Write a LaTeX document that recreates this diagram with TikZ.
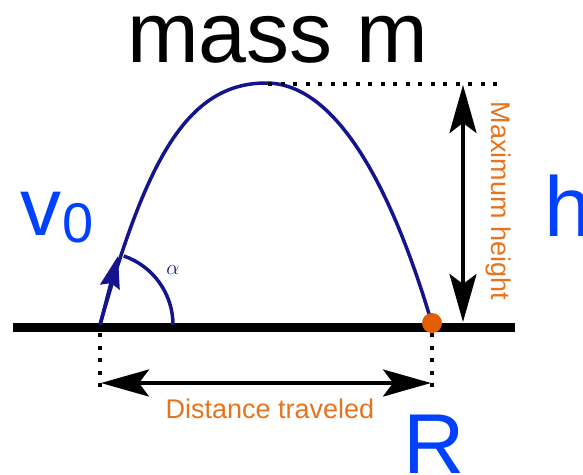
\documentclass[tikz,border=0pt]{standalone}
\usepackage{fontspec}
\setmainfont{Liberation Sans}
\usetikzlibrary{arrows.meta}
\definecolor{trajc}{RGB}{20,20,140}
\definecolor{lblue}{RGB}{0,64,255}
\definecolor{lorange}{RGB}{230,115,30}
\definecolor{dotorange}{RGB}{225,95,0}
\begin{document}
\begin{tikzpicture}[x=1pt,y=-1pt,
  traj/.style={draw=trajc, line width=3.5pt},
  dotline/.style={line width=4pt, dash pattern=on 4pt off 8.5pt},
  dimarrow/.style={line width=4pt, {Stealth[length=48pt,width=27pt,inset=10pt]}-{Stealth[length=48pt,width=27pt,inset=10pt]}},
  bigtext/.style={text=lblue, font=\fontsize{85}{85}\selectfont, inner sep=0pt, anchor=base west},
  smalltext/.style={text=lorange, font=\fontsize{27}{27}\selectfont, inner sep=0pt}]
\useasboundingbox (0,0) rectangle (583,474);
% coordinates
\coordinate (launch) at (100,325);
\coordinate (apex) at (266,83);
\coordinate (land) at (432,324);
\coordinate (tipv) at (118,256);
\coordinate (arcstart) at (173,325);
\coordinate (gl) at (13,327.5);
\coordinate (gr) at (515,327.5);
\coordinate (dtl) at (268,84);
\coordinate (dtr) at (500,84);
\coordinate (htop) at (463,85);
\coordinate (hbot) at (463,322);
\coordinate (vl1) at (100,333);
\coordinate (vl2) at (100,392);
\coordinate (vr1) at (432,333);
\coordinate (vr2) at (432,392);
\coordinate (al) at (101,383);
\coordinate (ar) at (431,383);
% ground
\draw[line width=9pt] (gl) -- (gr);
% trajectory
\draw[traj] (launch) .. controls (145,165) and (185,83) .. (apex)
            .. controls (345,83) and (400,215) .. (land);
\draw[traj, -{Stealth[length=32pt,width=20pt,inset=4pt]}] (launch) -- (tipv);
\draw[traj] (arcstart) arc[start angle=0, end angle=71, radius=73pt];
\node[text=trajc, font=\fontsize{22}{22}\selectfont, inner sep=0pt] (alph) at (173,270) {$\alpha$};
% landing dot
\node[circle, fill=dotorange, minimum size=20pt, inner sep=0pt] (dot) at (432,323) {};
% dotted guides
\draw[dotline] (dtl) -- (dtr);
\draw[dotline] (vl1) -- (vl2);
\draw[dotline] (vr1) -- (vr2);
% dimension arrows
\draw[dimarrow] (htop) -- (hbot);
\draw[dimarrow] (al) -- (ar);
% labels
\node[font=\fontsize{86}{86}\selectfont, inner sep=0pt, anchor=base, text height=47pt, text depth=0pt] (title) at (277.5,62) {mass m};
\node[bigtext, font=\fontsize{82}{82}\selectfont] (v) at (20,235) {v};
\node[text=lblue, font=\fontsize{56}{56}\selectfont, inner sep=0pt, anchor=base west] (zero) at (62.5,242) {0};
\node[bigtext] (h) at (544,236) {h};
\node[bigtext, text depth=0pt] (R) at (403,473) {R};
\node[smalltext, rotate=-90] (maxh) at (498,201) {Maximum height};
\node[smalltext, anchor=base] (dist) at (270,418) {Distance traveled};
\end{tikzpicture}
\end{document}
